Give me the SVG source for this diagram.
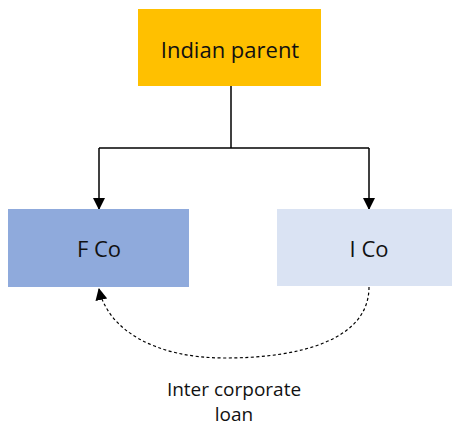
<svg xmlns="http://www.w3.org/2000/svg" width="452" height="427" viewBox="0 0 452 427">
<style>
.lbl{font-family:"Open Sans","DejaVu Sans",sans-serif;font-size:22px;font-weight:500;fill:#111;text-anchor:middle;dominant-baseline:central}
.sm{font-size:19px;font-weight:normal}
.ln{stroke:#000;stroke-width:1.5;fill:none}
</style>
<defs>
<marker id="ah2" markerWidth="12" markerHeight="12" refX="11" refY="6" orient="auto" markerUnits="userSpaceOnUse" viewBox="0 0 12 12">
<path d="M0,0 L12,6 L0,12 z" fill="#000"/>
</marker>
</defs>
<rect width="452" height="427" fill="#fff"/>
<g id="connectors">
<path class="ln" d="M231,86 V148"/>
<path class="ln" d="M99,148 H369"/>
<path class="ln" d="M99,148 V209" marker-end="url(#ah2)"/>
<path class="ln" d="M369,148 V209" marker-end="url(#ah2)"/>
<path d="M369,287 C369,340 300,358 225,358 C155,358 108,330 99,289" fill="none" stroke="#000" stroke-width="1.2" stroke-dasharray="3,2.5" marker-end="url(#ah2)"/>
</g>
<g id="indian-parent">
<rect x="138" y="9" width="183" height="77" fill="#FFC000"/>
<text class="lbl" x="230" y="49">Indian parent</text>
</g>
<g id="f-co">
<rect x="8" y="209" width="181" height="78" fill="#8FAADC"/>
<text class="lbl" x="99" y="248">F Co</text>
</g>
<g id="i-co">
<rect x="277" y="209" width="175" height="77" fill="#DAE3F3"/>
<text class="lbl" x="369" y="248">I Co</text>
</g>
<g id="loan-label">
<text class="lbl sm" x="234" y="389">Inter corporate</text>
<text class="lbl sm" x="234" y="414">loan</text>
</g>
</svg>
